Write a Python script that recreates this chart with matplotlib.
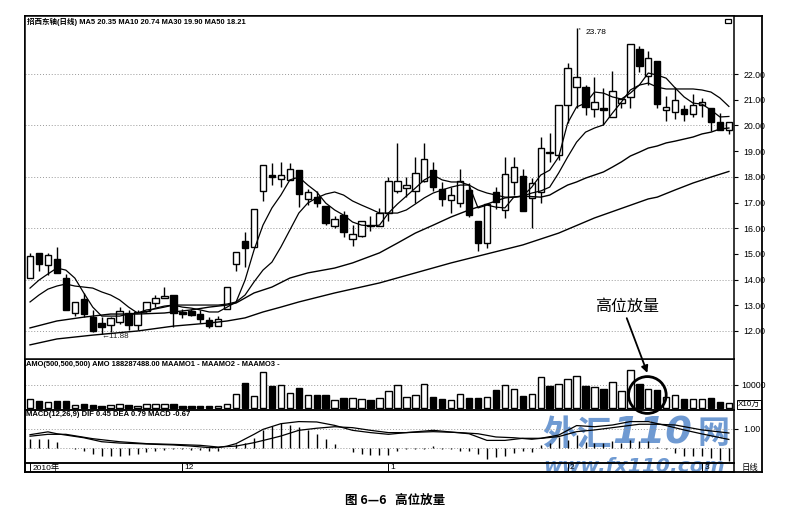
import matplotlib
matplotlib.use('Agg')
import matplotlib.pyplot as plt
from matplotlib.patches import Ellipse, Rectangle

plt.rcParams['font.family'] = ['Liberation Sans', 'Noto Sans CJK SC', 'DejaVu Sans']

opens = [14.06, 15.03, 14.57, 14.80, 14.06, 12.70, 13.25, 12.54, 12.31, 12.23,
         12.35, 12.70, 12.23, 12.78, 13.09, 13.28, 13.40, 12.74, 12.78, 12.66,
         12.43, 12.19, 12.86, 14.61, 15.50, 15.27, 17.45, 18.07, 17.91, 17.88,
         18.26, 17.14, 17.21, 16.86, 16.09, 16.51, 15.58, 15.70, 16.11, 16.09,
         16.59, 17.45, 17.56, 17.45, 17.84, 18.26, 17.53, 17.10, 16.98, 17.49,
         16.28, 15.42, 17.41, 16.71, 17.80, 18.03, 17.17, 17.41, 18.98, 18.85,
         20.79, 21.49, 21.49, 20.64, 20.66, 20.33, 20.87, 21.10, 22.97, 21.92,
         22.50, 20.60, 20.52, 20.64, 20.44, 20.79, 20.68, 20.13, 19.82]
closes = [14.92, 14.61, 14.96, 14.26, 12.82, 13.13, 12.66, 12.00, 12.16, 12.50,
          12.78, 12.23, 12.74, 13.13, 13.28, 13.36, 12.70, 12.66, 12.62, 12.47,
          12.19, 12.47, 13.71, 15.07, 15.23, 16.75, 18.46, 17.99, 18.07, 18.30,
          17.33, 17.41, 16.98, 16.20, 16.36, 15.85, 15.77, 16.28, 16.07, 16.59,
          17.84, 17.84, 17.68, 18.15, 18.69, 17.60, 17.14, 17.29, 17.84, 16.51,
          15.42, 16.94, 17.02, 18.11, 18.38, 16.67, 17.76, 19.12, 18.94, 20.79,
          22.23, 21.88, 20.72, 20.91, 20.62, 21.34, 21.03, 23.17, 22.31, 22.62,
          20.83, 20.72, 20.99, 20.44, 20.79, 20.91, 20.13, 19.82, 20.13]
highs = [15.03, 15.03, 15.03, 15.27, 14.22, 13.13, 13.48, 12.82, 12.54, 12.54,
         12.93, 12.80, 12.80, 13.13, 13.40, 13.71, 13.40, 12.86, 12.86, 12.80,
         12.54, 12.58, 13.71, 15.07, 15.85, 16.75, 18.46, 18.54, 18.58, 18.54,
         18.26, 17.53, 17.45, 16.86, 16.47, 16.67, 16.12, 16.28, 16.47, 16.79,
         17.99, 19.32, 17.99, 18.77, 19.32, 18.58, 17.80, 17.60, 18.30, 17.76,
         16.28, 16.94, 17.60, 18.77, 18.77, 18.30, 17.95, 19.55, 19.70, 20.79,
         22.43, 23.78, 21.57, 21.88, 21.45, 22.12, 21.03, 23.17, 23.09, 22.89,
         22.50, 21.14, 21.49, 20.79, 21.22, 21.07, 20.68, 20.48, 20.13]
lows = [14.06, 14.33, 14.18, 14.26, 12.82, 12.58, 12.54, 11.96, 11.88, 11.96,
        12.27, 12.04, 12.04, 12.74, 12.93, 13.28, 12.16, 12.50, 12.58, 12.31,
        12.12, 12.19, 12.86, 14.33, 14.49, 15.27, 17.06, 17.68, 17.60, 17.88,
        16.82, 16.90, 16.82, 16.12, 16.00, 15.66, 15.31, 15.66, 15.89, 16.09,
        16.28, 17.37, 17.21, 16.98, 17.80, 17.45, 16.86, 16.59, 16.82, 16.44,
        15.11, 15.23, 16.75, 16.40, 17.29, 16.67, 16.00, 17.00, 18.58, 18.65,
        20.09, 20.68, 20.40, 20.33, 20.00, 20.33, 20.68, 20.68, 22.08, 21.57,
        20.68, 20.17, 20.25, 20.17, 20.33, 20.33, 19.78, 19.82, 19.66]

ma5 = [13.67, 13.98, 14.22, 14.45, 14.37, 14.06, 13.48, 12.93, 12.58, 12.58,
       12.58, 12.66, 12.70, 12.82, 12.86, 12.93, 13.01, 12.93, 12.89, 12.82,
       12.74, 12.74, 12.93, 13.13, 13.98, 15.15, 16.12, 16.79, 17.29, 17.88,
       17.99, 17.68, 17.41, 16.98, 16.71, 16.51, 16.24, 16.12, 16.09, 16.12,
       16.59, 16.94, 17.25, 17.56, 17.88, 18.07, 17.88, 17.80, 17.80, 17.68,
       16.79, 16.90, 16.82, 16.79, 17.21, 17.25, 17.60, 18.07, 18.26, 18.77,
       20.09, 20.72, 20.87, 21.30, 21.26, 21.11, 21.03, 21.26, 21.57, 22.04,
       21.96, 21.84, 21.46, 21.11, 20.87, 20.83, 20.60, 20.33, 20.35]
ma10 = [13.13, 13.40, 13.63, 13.75, 13.83, 13.75, 13.71, 13.67, 13.52, 13.40,
        13.21, 12.93, 12.70, 12.74, 12.89, 12.97, 13.01, 13.01, 13.01, 13.01,
        13.01, 13.01, 13.05, 13.13, 13.40, 13.91, 14.37, 14.68, 15.27, 15.93,
        16.59, 16.98, 17.18, 17.33, 17.41, 17.29, 17.06, 16.90, 16.75, 16.59,
        16.59, 16.59, 16.71, 16.94, 17.18, 17.37, 17.49, 17.60, 17.68, 17.68,
        17.49, 17.37, 17.29, 17.21, 17.21, 17.25, 17.37, 17.45, 17.60, 18.15,
        18.77, 19.35, 19.74, 19.90, 20.02, 20.48, 20.91, 21.38, 21.57, 21.65,
        21.49, 21.42, 21.42, 21.42, 21.42, 21.38, 21.30, 21.07, 20.74]
ma30_idx = [0, 3, 6, 9, 12, 15, 18, 20, 22, 23, 25, 27, 29, 31, 34, 36, 39, 41, 43, 45, 47,
            49, 51, 53, 55, 57, 58, 59, 60, 61, 62, 63, 64, 65, 66, 67, 68, 69, 70, 71,
            72, 73, 74, 75, 76, 77, 78]
ma30 = [12.12, 12.39, 12.54, 12.66, 12.66, 12.70, 12.82, 12.93, 13.01, 13.09, 13.48, 13.71,
        14.06, 14.26, 14.45, 14.65, 15.04, 15.42, 15.81, 16.12, 16.44, 16.71, 16.94, 17.18,
        17.25, 17.21, 17.29, 17.49, 17.68, 17.80, 17.95, 18.07, 18.19, 18.38, 18.58, 18.81,
        18.96, 19.12, 19.20, 19.32, 19.39, 19.47, 19.55, 19.67, 19.74, 19.86, 19.90]
ma50_idx = [0, 3, 7, 12, 16, 20, 22, 24, 26, 28, 30, 34, 39, 43, 47, 51, 55, 59, 63, 69, 70,
            72, 74, 76, 78]
ma50 = [11.46, 11.69, 11.84, 12.00, 12.19, 12.31, 12.39, 12.51, 12.74, 12.93, 13.13, 13.48,
        13.87, 14.26, 14.65, 15.00, 15.35, 15.81, 16.40, 17.14, 17.21, 17.49, 17.76, 17.99,
        18.21]

volume = [3915, 2900, 2465, 3190, 3190, 1450, 1740, 1160, 1015, 1450,
          1740, 1450, 1015, 1885, 1885, 1885, 1885, 1015, 1015, 1015,
          1015, 1015, 1740, 6235, 10875, 5075, 15660, 9425, 10150, 6525,
          8700, 5800, 5510, 5510, 3335, 4350, 4205, 3915, 3625, 4350,
          7540, 10150, 4785, 5800, 10440, 4930, 3915, 3335, 5945, 4350,
          4350, 4640, 7685, 10150, 8120, 5220, 6090, 13480, 9420, 10400,
          12750, 14000, 9420, 8985, 8260, 11160, 7535, 16520, 10435, 8260,
          7970, 4780, 5510, 4060, 3910, 4060, 4350, 2610, 2175]

macd_bar = [0.46, 0.46, 0.46, 0.33, 0.02, -0.07, -0.16, -0.33, -0.42, -0.42,
            -0.42, -0.39, -0.33, -0.19, -0.16, -0.10, -0.07, -0.04, -0.12, -0.12,
            -0.18, -0.16, 0.02, 0.19, 0.28, 0.54, 0.93, 1.16, 1.30, 1.21,
            1.12, 0.93, 0.72, 0.46, 0.19, 0.02, -0.19, -0.33, -0.37, -0.39,
            -0.39, -0.16, -0.04, -0.04, -0.04, 0.10, -0.04, -0.05, -0.16, -0.16,
            -0.30, -0.56, -0.47, -0.42, -0.25, -0.16, -0.21, 0.16, 0.25, 0.60,
            0.42, 0.68, 0.33, 0.25, 0.28, 0.39, 0.28, 0.42, 0.39, 0.37,
            0.07, -0.07, -0.28, -0.40, -0.40, -0.42, -0.54, -0.63, -0.67]
dif_idx = [0, 2, 3, 6, 8, 10, 12, 14, 16, 18, 20, 21, 22, 23, 25, 26, 28, 30, 32, 34, 36, 38,
           40, 42, 45, 47, 49, 51, 53, 55, 57, 59, 61, 63, 65, 67, 69, 71, 73, 75, 78]
dif = [0.70, 0.85, 0.75, 0.54, 0.33, 0.26, 0.23, 0.19, 0.16, 0.10, 0.02, 0.02, 0.10, 0.23,
       0.72, 0.98, 1.28, 1.39, 1.37, 1.19, 0.93, 0.81, 0.72, 0.81, 0.93, 0.84, 0.75, 0.40,
       0.40, 0.51, 0.51, 0.68, 1.18, 1.12, 1.21, 1.39, 1.39, 1.18, 0.95, 0.74, 0.45]
dea_idx = [0, 2, 4, 7, 10, 13, 16, 19, 21, 23, 25, 27, 28, 30, 32, 34, 36, 38, 40, 42, 45, 48,
           50, 52, 54, 56, 59, 61, 63, 65, 68, 70, 72, 75, 78]
dea = [0.62, 0.72, 0.72, 0.49, 0.33, 0.23, 0.19, 0.14, 0.05, 0.10, 0.28, 0.51, 0.63, 0.93,
       1.04, 1.12, 1.07, 0.93, 0.81, 0.81, 0.86, 0.81, 0.75, 0.58, 0.54, 0.46, 0.60, 0.86,
       0.95, 1.07, 1.25, 1.25, 1.21, 0.95, 0.79]

price_ticks = [12, 13, 14, 15, 16, 17, 18, 19, 20, 21, 22]
grid_levels = [12, 14, 16, 18, 20, 22]
date_idx = [0, 17, 40, 60, 75]
date_labels = ['2010年', '12', '1', '2', '3']

W, H = 785, 528


def px_axes(x0, y0, x1, y1):
    # pixel box of the scan, y counted from the top
    return fig.add_axes([x0 / W, 1 - y1 / H, (x1 - x0) / W, (y1 - y0) / H])


fig = plt.figure(figsize=(W / 100, H / 100), dpi=100)
xlim = (-0.56, 78.57)
x = list(range(len(opens)))
body_w = 0.72
line_w = 1.0
colors = ['white' if c >= o else 'black' for o, c in zip(opens, closes)]

# price, kept above the amount panel so the arrow can run into it
ax = px_axes(25, 16, 734, 359)
ax.set_zorder(2)
ax.set_xlim(xlim)
ax.set_ylim(10.91, 24.26)
for lv in grid_levels:
    ax.axhline(lv, color='#999999', lw=0.7, ls=(0, (1, 2)), zorder=1)
ax.vlines(x, lows, highs, color='black', lw=line_w, zorder=2)
ax.bar(x, [c - o for o, c in zip(opens, closes)], bottom=opens, width=body_w,
       color=colors, edgecolor='black', lw=line_w, zorder=3)
ax.plot(x, ma5, color='black', lw=0.9, zorder=4)
ax.plot(x, ma10, color='black', lw=0.9, zorder=4)
ax.plot(ma30_idx, ma30, color='black', lw=1.0, zorder=4)
ax.plot(ma50_idx, ma50, color='black', lw=1.0, zorder=4)
ax.set_xticks([])
ax.yaxis.tick_right()
ax.set_yticks(price_ticks)
ax.set_yticklabels([f'{t:.2f}' for t in price_ticks], fontsize=6.3)
ax.tick_params(axis='y', length=3, width=0.8, pad=4)
ax.text(0.003, 0.993, '招西东轴(日线) MA5 20.35 MA10 20.74 MA30 19.90 MA50 18.21',
        transform=ax.transAxes, fontsize=5.4, va='top', fontweight='bold')
ax.annotate('23.78', xy=(61, 23.78), xytext=(62, 23.63), fontsize=6, va='center',
            arrowprops=dict(arrowstyle='-', lw=0.7))
ax.text(8.0, 11.8, '←11.88', fontsize=5.8, va='center', color='#222222')
ax.text(66.6, 12.98, '高位放量', fontsize=11.5, ha='center', va='center',
        family=['Noto Sans CJK SC'])
ax.annotate('', xy=(68.9, 10.37), xytext=(66.6, 12.5),
            arrowprops=dict(arrowstyle='-|>', lw=1.3, color='black', mutation_scale=10,
                            shrinkA=0, shrinkB=0),
            annotation_clip=False)
# little window button in the corner of the panel
ax.add_patch(Rectangle((0.988, 0.98), 0.008, 0.012, transform=ax.transAxes, fc='white',
                       ec='black', lw=0.9))

# amount
ax2 = px_axes(25, 359, 734, 410)
ax2.set_xlim(xlim)
ax2.set_ylim(-870, 21300)
ax2.axhline(10000, color='#999999', lw=0.7, ls=(0, (1, 2)), zorder=1)
ax2.bar(x, volume, width=body_w, color=colors, edgecolor='black', lw=line_w, zorder=3)
ax2.set_xticks([])
ax2.yaxis.tick_right()
ax2.set_yticks([10000])
ax2.set_yticklabels(['10000'], fontsize=6.3)
ax2.tick_params(axis='y', length=3, width=0.8, pad=2)
ax2.text(0.001, 0.97, 'AMO(500,500,500) AMO 188287488.00 MAAMO1 - MAAMO2 - MAAMO3 -',
         transform=ax2.transAxes, fontsize=5.4, va='top', fontweight='bold')
ax2.text(1.0055, 0.11, 'X10万', transform=ax2.transAxes, fontsize=5.8, va='center',
         bbox=dict(boxstyle='square,pad=0.15', fc='white', ec='black', lw=0.7))
ax2.add_patch(Ellipse((68.9, 5650), 4.2, 16000, fc='none', ec='black', lw=2,
                      zorder=5, clip_on=False))

# macd
ax3 = px_axes(25, 410, 734, 463)
ax3.patch.set_alpha(0)
ax3.set_xlim(xlim)
ax3.set_ylim(-0.79, 2.0)
ax3.axhline(1.0, color='#999999', lw=0.7, ls=(0, (1, 2)), zorder=1)
ax3.axhline(0, color='#999999', lw=0.7, ls=(0, (1, 2)), zorder=1)
ax3.vlines(x, 0, macd_bar, color='black', lw=line_w, zorder=2)
ax3.plot(dif_idx, dif, color='black', lw=0.9, zorder=3)
ax3.plot(dea_idx, dea, color='black', lw=0.9, zorder=3)
ax3.set_xticks([])
ax3.yaxis.tick_right()
ax3.set_yticks([1.0])
ax3.set_yticklabels(['1.00'], fontsize=6.3)
ax3.tick_params(axis='y', length=3, width=0.8, pad=4)
ax3.text(0.001, 0.99, 'MACD(12,26,9) DIF 0.45 DEA 0.79 MACD -0.67',
         transform=ax3.transAxes, fontsize=5.5, va='top', fontweight='bold')

# date strip
ax4 = px_axes(25, 463, 734, 472)
ax4.patch.set_alpha(0)
ax4.set_xlim(xlim)
ax4.set_ylim(0, 1)
ax4.set_yticks([])
ax4.set_xticks([])
for d, lab in zip(date_idx, date_labels):
    ax4.plot([d, d], [0, 1], color='black', lw=0.7)
    ax4.text(d + 0.25, 0.45, lab, fontsize=6, va='center', ha='left')
ax4.text(1.011, 0.45, '日线', transform=ax4.transAxes, fontsize=6, va='center',
         family=['Noto Sans CJK SC'])

# watermark sits under the chart lines
wm = '#6f9ad2'
wm_y = 1 - 434 / H
fig.text(542 / W, wm_y, '外汇', fontsize=25, color=wm, va='center', ha='left', fontweight='bold',
         family=['Noto Sans CJK SC'], zorder=-1)
fig.text(612 / W, wm_y, '110', fontsize=27.5, color=wm, va='center', ha='left',
         fontweight='bold', style='italic', family=['DejaVu Sans'], zorder=-1)
fig.text(698 / W, wm_y, '网', fontsize=23, color=wm, va='center', ha='left', fontweight='bold',
         family=['Noto Sans CJK SC'], zorder=-1)
fig.text(543 / W, 1 - 467 / H, 'www.fx110.com', fontsize=14.6, color=wm, va='center', ha='left',
         style='italic', fontweight='bold', family=['DejaVu Sans'], zorder=-1)

# outer right edge of the frame
box = px_axes(25, 16, 762, 472)
box.patch.set_alpha(0)
box.set_xticks([])
box.set_yticks([])
for s in box.spines.values():
    s.set_linewidth(1.3)
for a in (ax, ax2, ax3, ax4):
    for s in a.spines.values():
        s.set_linewidth(1.1)

fig.text(395 / W, 1 - 500 / H, '图 6—6   高位放量', fontsize=9, fontweight='bold',
         ha='center', va='center', family=['Noto Sans CJK SC'])

fig.savefig('out.png', dpi=100)
plt.close()
